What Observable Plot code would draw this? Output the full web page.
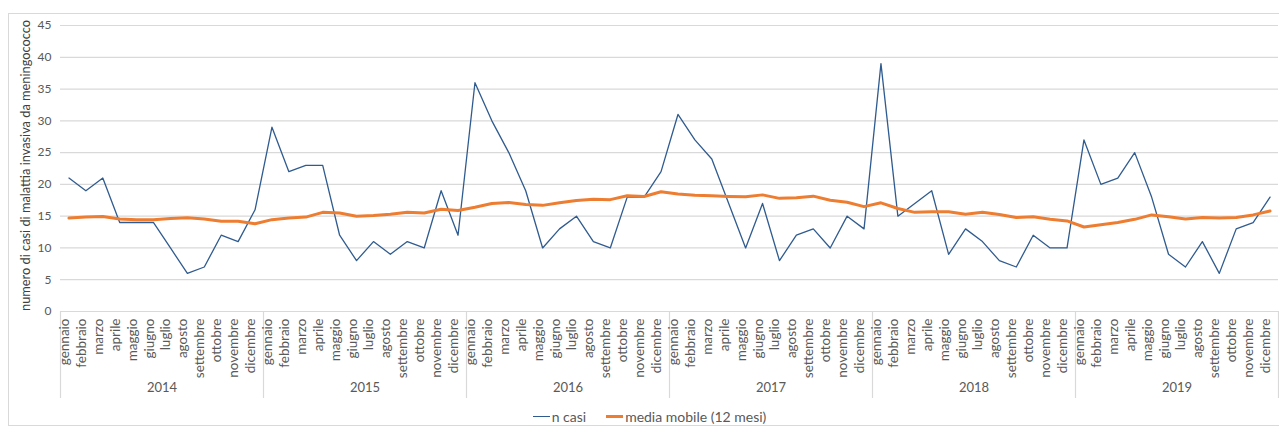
<!DOCTYPE html>
<html><head><meta charset="utf-8">
<script src="https://cdn.jsdelivr.net/npm/d3@7"></script>
<script src="https://cdn.jsdelivr.net/npm/@observablehq/plot@0.6"></script>
<style>
html,body{margin:0;padding:0;background:#fff;overflow:hidden;width:1279px;height:430px;}
#chart{position:absolute;left:0;top:0;}
#frame{position:absolute;left:8px;top:13px;width:1300px;height:411px;border:1px solid #d9d9d9;pointer-events:none;}
#legend{position:absolute;left:20px;top:400px;width:1259px;height:30px;display:flex;justify-content:center;align-items:center;padding-top:2px;box-sizing:border-box;font-family:Lato,"Open Sans",sans-serif;font-size:14px;color:#595959;}
.item{display:flex;align-items:center;margin:0 10px;}
.sw{display:inline-block;width:17px;margin-right:2px;}
</style></head><body>
<div id="chart"></div>
<div id="legend"></div>
<div id="frame"></div>
<script>
const months = ["gennaio","febbraio","marzo","aprile","maggio","giugno","luglio","agosto","settembre","ottobre","novembre","dicembre"];
const years = [2014, 2015, 2016, 2017, 2018, 2019];
const nCasi = [
  21,19,21,14,14,14,10,6,7,12,11,16,
  29,22,23,23,12,8,11,9,11,10,19,12,
  36,30,25,19,10,13,15,11,10,18,18,22,
  31,27,24,17,10,17,8,12,13,10,15,13,
  39,15,17,19,9,13,11,8,7,12,10,10,
  27,20,21,25,18,9,7,11,6,13,14,18
];
const mediaMobile = [
  14.7,14.85,14.95,14.55,14.45,14.45,14.65,14.75,14.55,14.2,14.2,13.8,
  14.45,14.7,14.85,15.6,15.5,15.0,15.1,15.3,15.6,15.5,16.1,15.9,
  16.4,17.0,17.15,16.85,16.7,17.1,17.45,17.65,17.6,18.2,18.1,18.85,
  18.5,18.3,18.2,18.1,18.05,18.35,17.8,17.9,18.15,17.5,17.2,16.5,
  17.1,16.2,15.6,15.7,15.7,15.3,15.6,15.25,14.8,14.9,14.5,14.25,
  13.3,13.65,14.0,14.5,15.2,14.9,14.55,14.8,14.7,14.8,15.2,15.8
];
const yTicks = [0,5,10,15,20,25,30,35,40,45];
const seriesNames = ["n casi", "media mobile (12 mesi)"];
const yTitle = "numero di casi di malattia invasiva da meningococco";

const W = 1279, H = 400, mL = 60, mR = 1, mT = 25, mB = 89;
const blue = "#2f5b8f", orange = "#ed7d31";

const rows = [];
years.forEach((yr, yi) => months.forEach((m, mi) => {
  const i = yi * 12 + mi;
  rows.push({i, month: m, year: yr, n: nCasi[i], mm: mediaMobile[i]});
}));
const idx = rows.map(d => d.i);
const halfStep = (W - mL - mR) / rows.length / 2;
const yearRows = years.map((yr, yi) => ({year: yr, start: yi * 12, mid: yi * 12 + 5}));
const font = "Lato, 'Open Sans', sans-serif";

const chart = Plot.plot({
  width: W, height: H,
  marginLeft: mL, marginRight: mR, marginTop: mT, marginBottom: mB,
  style: {fontFamily: font, background: "transparent", overflow: "visible"},
  x: {type: "point", domain: idx, padding: 0.5, round: false, axis: null},
  y: {domain: [0, 45], axis: null},
  marks: [
    Plot.ruleY(yTicks, {stroke: "#d9d9d9", strokeWidth: 1.2}),
    Plot.axisY(yTicks, {tickSize: 0, tickPadding: 9, fontSize: 12, fill: "#595959", label: null}),
    Plot.text([yTitle], {frameAnchor: "left", dx: -35, dy: -3, rotate: -90, textAnchor: "middle", fontSize: 12.8, fill: "#404040"}),
    Plot.ruleX(yearRows, {x: "start", dx: -halfStep, insetTop: H - mT - mB, insetBottom: -87, stroke: "#d9d9d9", strokeWidth: 1.2}),
    Plot.ruleX([rows[rows.length - 1]], {x: "i", dx: halfStep, insetTop: H - mT - mB, insetBottom: -87, stroke: "#d9d9d9", strokeWidth: 1.2}),
    Plot.text(rows, {x: "i", text: "month", frameAnchor: "bottom", dy: 7, rotate: -90, textAnchor: "end", fontSize: 13.5, fill: "#595959"}),
    Plot.text(yearRows, {x: "mid", text: d => String(d.year), frameAnchor: "bottom", dy: 80, dx: halfStep, fontSize: 13, fill: "#595959"}),
    Plot.line(rows, {x: "i", y: "n", stroke: blue, strokeWidth: 1.3}),
    Plot.line(rows, {x: "i", y: "mm", stroke: orange, strokeWidth: 3})
  ]
});
document.getElementById("chart").appendChild(chart);

const legend = document.getElementById("legend");
[[seriesNames[0], blue, 1.3], [seriesNames[1], orange, 3]].forEach(([name, color, w]) => {
  const it = document.createElement("div"); it.className = "item";
  const sw = document.createElement("span"); sw.className = "sw";
  sw.style.borderTop = `${w}px solid ${color}`;
  const tx = document.createElement("span"); tx.textContent = name;
  it.appendChild(sw); it.appendChild(tx); legend.appendChild(it);
});
</script>
</body></html>
